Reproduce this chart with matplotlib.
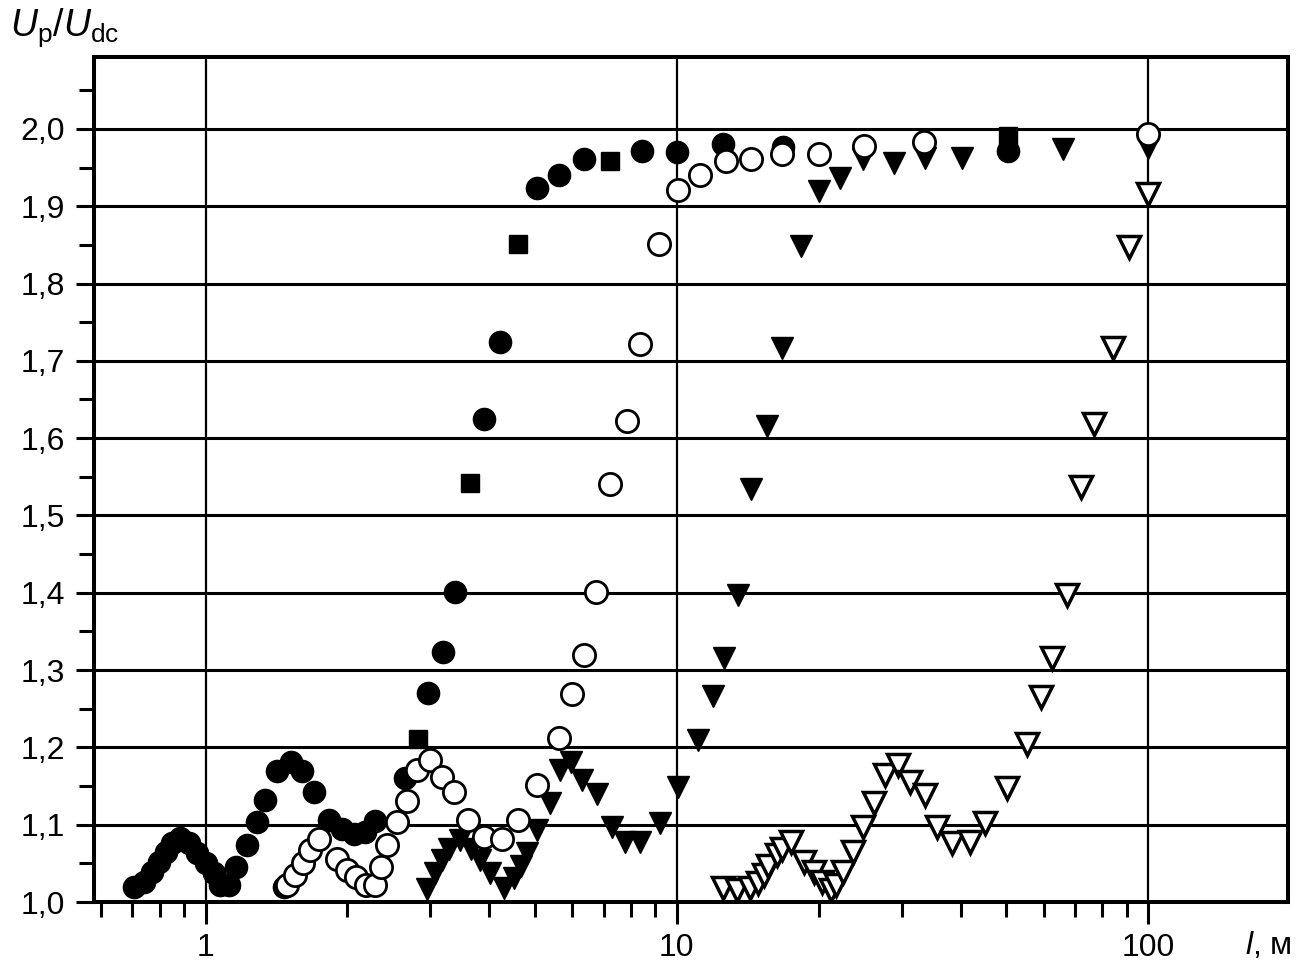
import numpy as np
import matplotlib
matplotlib.use("Agg")
import matplotlib.pyplot as plt
from matplotlib.ticker import FixedLocator, FuncFormatter, MultipleLocator

plt.rcParams['font.family'] = ['Liberation Sans', 'DejaVu Sans']
plt.rcParams['mathtext.fontset'] = 'custom'
plt.rcParams['mathtext.rm'] = 'Liberation Sans'
plt.rcParams['mathtext.it'] = 'Liberation Sans:italic'

# series 1: filled circles (a few look square in the scan)
x_fc = [0.704, 0.74, 0.771, 0.796, 0.823, 0.85, 0.885, 0.922, 0.96, 1.0, 1.041,
        1.076, 1.121, 1.158, 1.226, 1.283, 1.34, 1.42, 1.47, 1.52, 1.60, 1.70,
        1.83, 1.95, 2.07, 2.18, 2.29, 2.65, 2.97, 3.19, 3.39, 3.89, 4.22, 5.05,
        5.61, 6.34, 8.44, 10.0, 12.56, 16.8, 50.5]
y_fc = [1.020, 1.026, 1.039, 1.052, 1.065, 1.076, 1.083, 1.076, 1.063, 1.050, 1.037,
        1.022, 1.022, 1.045, 1.074, 1.104, 1.132, 1.170, 1.020, 1.181, 1.170, 1.142,
        1.106, 1.094, 1.088, 1.090, 1.105, 1.160, 1.270, 1.323, 1.401, 1.625, 1.724, 1.923,
        1.941, 1.961, 1.971, 1.970, 1.980, 1.977, 1.972]
x_fs = [2.83, 3.64, 4.61, 7.23, 50.5]
y_fs = [1.211, 1.542, 1.851, 1.959, 1.991]

# series 2: open circles
x_oc = [1.49, 1.55, 1.61, 1.67, 1.74, 1.90, 2.0, 2.09, 2.19, 2.29, 2.36, 2.43,
        2.55, 2.68, 2.81, 3.0, 3.17, 3.36, 3.61, 3.89, 4.26, 4.61, 5.05, 5.61,
        5.98, 6.36, 6.75, 7.23, 7.82, 8.35, 9.17, 10.04, 11.2, 12.7, 14.4, 16.7,
        20.0, 24.9, 33.4, 100.0]
y_oc = [1.022, 1.035, 1.050, 1.067, 1.082, 1.055, 1.042, 1.032, 1.022, 1.022, 1.045, 1.074,
        1.104, 1.130, 1.171, 1.184, 1.162, 1.142, 1.106, 1.084, 1.082, 1.106, 1.151, 1.212,
        1.269, 1.320, 1.401, 1.541, 1.622, 1.722, 1.851, 1.921, 1.941, 1.959, 1.961, 1.967,
        1.968, 1.978, 1.983, 1.993]

# series 3: filled down triangles
x_ft = [2.95, 3.07, 3.18, 3.28, 3.47, 3.65, 3.83, 4.02, 4.29, 4.51, 4.66, 4.81,
        5.05, 5.39, 5.66, 5.95, 6.28, 6.76, 7.27, 7.77, 8.36, 9.22, 10.07, 11.1,
        11.94, 12.6, 13.5, 14.4, 15.51, 16.7, 18.3, 20.0, 22.2, 24.8, 28.9, 33.6,
        40.3, 66.0, 100.0]
y_ft = [1.017, 1.037, 1.054, 1.069, 1.080, 1.069, 1.054, 1.037, 1.018, 1.031, 1.046, 1.063,
        1.093, 1.128, 1.171, 1.181, 1.158, 1.140, 1.097, 1.078, 1.078, 1.102, 1.149, 1.209,
        1.267, 1.315, 1.397, 1.534, 1.616, 1.717, 1.849, 1.920, 1.937, 1.961, 1.956, 1.963,
        1.963, 1.974, 1.975]

# series 4: open down triangles
x_ot = [12.56, 13.4, 14.3, 14.9, 15.3, 15.6, 16.3, 16.7, 17.5, 18.6, 19.5, 20.3,
        21.2, 21.8, 22.5, 23.6, 24.8, 26.2, 27.6, 29.5, 31.2, 33.6, 35.6, 38.3,
        41.9, 45.0, 50.2, 55.3, 59.2, 62.5, 67.2, 72.1, 76.9, 84.1, 91.0, 100.0]
y_ot = [1.018, 1.015, 1.018, 1.024, 1.035, 1.046, 1.061, 1.069, 1.078, 1.052, 1.039, 1.026,
        1.015, 1.022, 1.039, 1.065, 1.097, 1.128, 1.164, 1.177, 1.155, 1.138, 1.097, 1.076,
        1.078, 1.102, 1.147, 1.205, 1.265, 1.315, 1.397, 1.537, 1.618, 1.717, 1.847, 1.916]

fig = plt.figure(figsize=(12.99, 9.64), dpi=100)
ax = fig.add_axes([94 / 1299, 62 / 964, (1288 - 94) / 1299, (902 - 57) / 964])

ms = 16
ax.plot(x_fc, y_fc, 'o', ms=ms, mfc='k', mec='k', mew=1, zorder=3)
ax.plot(x_fs, y_fs, 's', ms=ms * 0.85, mfc='k', mec='k', mew=1, zorder=3)
ax.plot(x_ft, y_ft, 'v', ms=16.5, mfc='k', mec='k', mew=1, zorder=3)
ax.plot(x_oc, y_oc, 'o', ms=ms, mfc='white', mec='k', mew=2, zorder=4)
ax.plot(x_ot, y_ot, 'v', ms=16.5, mfc='white', mec='k', mew=2.5, zorder=4)

ax.set_xscale('log')
ax.set_xlim(0.58, 198)
ax.set_ylim(1.0, 2.093)

ax.xaxis.set_major_locator(FixedLocator([1, 10, 100]))
ax.xaxis.set_major_formatter(FuncFormatter(lambda v, p: '%g' % v))
minors = [m * d for d in (0.1, 1, 10) for m in range(2, 10)]
ax.xaxis.set_minor_locator(FixedLocator([v for v in minors if 0.58 < v < 198]))
ax.xaxis.set_minor_formatter(FuncFormatter(lambda v, p: ''))

ax.yaxis.set_major_locator(MultipleLocator(0.1))
ax.yaxis.set_minor_locator(MultipleLocator(0.05))
ax.yaxis.set_major_formatter(FuncFormatter(lambda v, p: ('%.1f' % v).replace('.', ',')))

ax.tick_params(axis='both', which='major', direction='out', width=2.2, labelsize=23)
ax.tick_params(axis='x', which='major', length=16, pad=6)
ax.tick_params(axis='x', which='minor', length=11, width=2.2)
ax.tick_params(axis='y', which='major', length=13, pad=8)
ax.tick_params(axis='y', which='minor', length=11, width=2.2)
ax.tick_params(top=False, right=False, which='both')

ax.grid(axis='y', which='major', color='k', lw=2.2)
ax.grid(axis='x', which='major', color='k', lw=1.6)
ax.set_axisbelow(True)
for s in ax.spines.values():
    s.set_linewidth(2.9)

fig.text(10 / 1299, 1 - 6 / 964, r'$U_\mathrm{p}/U_\mathrm{dc}$', fontsize=27,
         ha='left', va='top')
fig.text(1292 / 1299, 1 - 945 / 964, r'$l$, м', fontsize=23, ha='right', va='center')

fig.savefig('out.png', dpi=100)
